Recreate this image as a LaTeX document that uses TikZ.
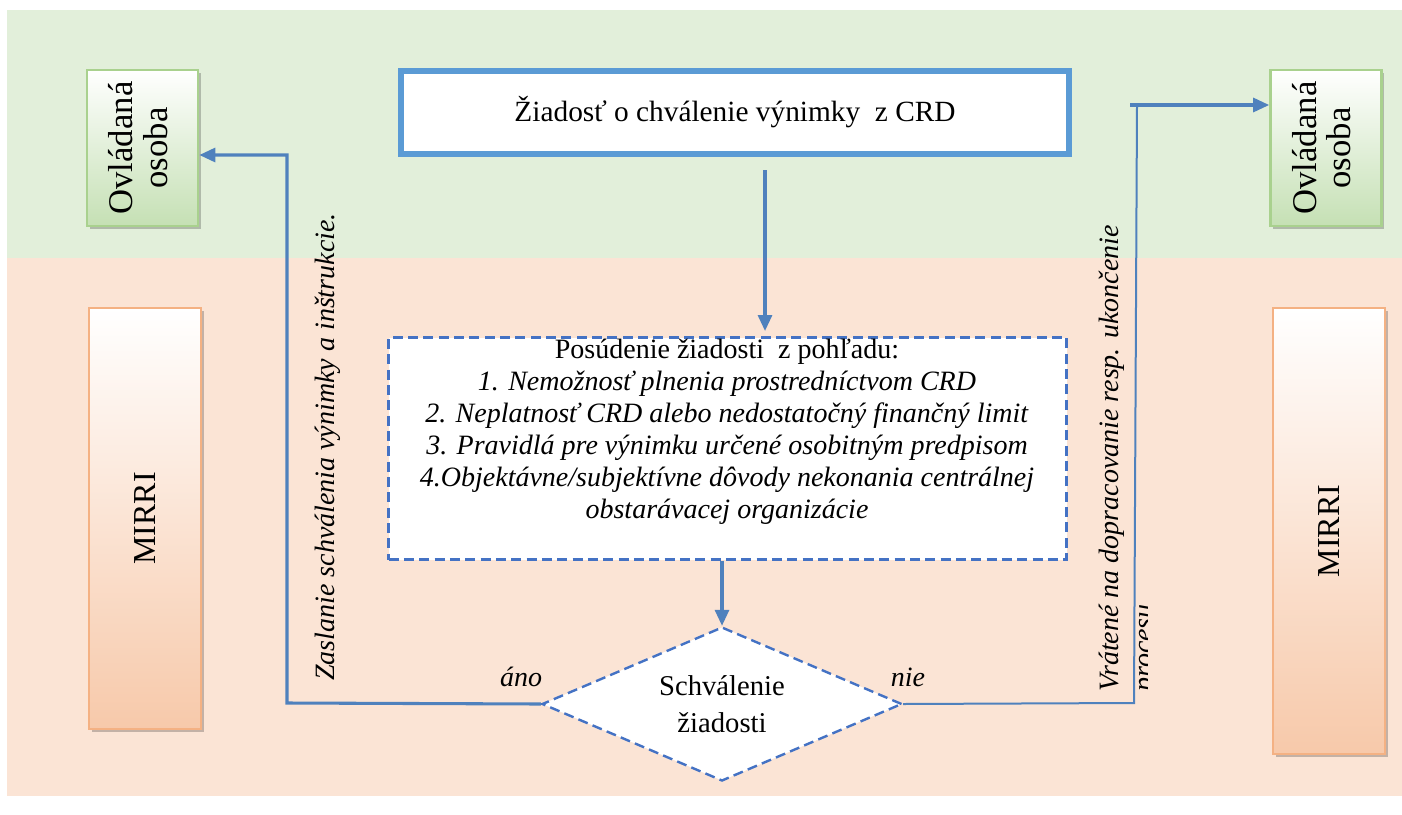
\documentclass[tikz,border=0pt]{standalone}
\usepackage{fontspec}
\setmainfont{Liberation Serif}
\usepackage{graphicx}
\usetikzlibrary{arrows.meta,shapes.geometric,shadows}
\definecolor{bggreen}{RGB}{226,239,218}
\definecolor{bgpeach}{RGB}{251,228,213}
\definecolor{boxgreen}{RGB}{197,224,180}
\definecolor{bordgreen}{RGB}{169,209,142}
\definecolor{boxpeach}{RGB}{247,201,170}
\definecolor{bordpeach}{RGB}{244,177,131}
\definecolor{topblue}{RGB}{91,155,213}
\definecolor{linkblue}{RGB}{79,129,189}
\definecolor{dashblue}{RGB}{68,114,196}
\begin{document}
\begin{tikzpicture}[x=0.75pt,y=-0.75pt,
  font=\fontsize{21}{24}\selectfont,
  shadowed/.style={drop shadow={shadow xshift=2.2pt,shadow yshift=-2.2pt,fill=black,opacity=0.22}},
  ovlbox/.style={draw=bordgreen,line width=2pt,top color=white,bottom color=boxgreen,
    minimum width=111*0.75pt,minimum height=156*0.75pt,inner sep=0pt,shadowed,
    font=\fontsize{26}{28}\selectfont},
  mirribox/.style={draw=bordpeach,line width=2pt,top color=white,bottom color=boxpeach,
    minimum width=112*0.75pt,inner sep=0pt,shadowed,font=\fontsize{24}{26}\selectfont},
  topbox/.style={draw=topblue,line width=4.5pt,fill=white,
    minimum width=668*0.75pt,minimum height=83*0.75pt,inner sep=0pt,
    font=\fontsize{22}{25}\selectfont},
  dashbox/.style={draw=dashblue,line width=1.8pt,dash pattern=on 7.5pt off 4pt,fill=white,
    minimum width=678*0.75pt,minimum height=222*0.75pt,inner sep=0pt},
  decision/.style={diamond,draw=dashblue,line width=1.8pt,dash pattern=on 7.5pt off 4pt,fill=white,
    aspect=2.34,minimum width=360*0.75pt,minimum height=154*0.75pt,inner sep=0pt,align=center},
  link/.style={draw=linkblue,line width=2.3pt},
  thinlink/.style={draw=linkblue,line width=1.5pt},
  tip/.style={-{Triangle[length=12pt,width=10.5pt]}},
  lbl/.style={font=\fontsize{21}{24}\selectfont\itshape,inner sep=0pt}
]
\useasboundingbox (0,0) rectangle (1402,814);
\fill[white] (0,0) rectangle (1402,814);
\fill[bggreen] (7,10) rectangle (1402,258);
\fill[bgpeach] (7,258) rectangle (1402,796);

% boxes
\node[ovlbox] (ovlL) at (142.5,148) {\rotatebox{90}{\begin{tabular}{@{}c@{}}Ovládaná\\[-2pt]osoba\end{tabular}}};
\node[ovlbox] (ovlR) at (1326,148) {\rotatebox{90}{\begin{tabular}{@{}c@{}}Ovládaná\\[-2pt]osoba\end{tabular}}};
\node[mirribox,minimum height=421*0.75pt] (mirriL) at (145,518.5) {\rotatebox{90}{MIRRI}};
\node[mirribox,minimum height=446*0.75pt] (mirriR) at (1329,531) {\rotatebox{90}{MIRRI}};

\node[topbox] (request) at (735,112.5) {Žiadosť o chválenie výnimky \ z CRD};

\node[dashbox] (assess) at (727.5,448.5) {};
\node[align=center,inner sep=0pt] (assesstxt) at (727,432) {Posúdenie žiadosti \ z pohľadu:\\
\textit{1. Nemožnosť plnenia prostredníctvom CRD}\\
\textit{2. Neplatnosť CRD alebo nedostatočný finančný limit}\\
\textit{3. Pravidlá pre výnimku určené osobitným predpisom}\\
\textit{4.Objektávne/subjektívne dôvody nekonania centrálnej}\\
\textit{obstarávacej organizácie}};

\node[decision,font=\fontsize{21.5}{28}\selectfont] (approve) at (722,704) {Schválenie\\žiadosti};

% connectors
\coordinate (downA) at (765,170);
\coordinate (downB) at (765,331);
\draw[link,tip] (downA) -- (downB);
\draw[link,tip] (assess.south -| approve.north) -- (approve.north);

\coordinate (yesCorner) at (287,703);
\coordinate (yesTop) at (287,155);
\draw[link,tip,line join=miter] (approve.west) -- (yesCorner) -- (yesTop) -- (yesTop -| ovlL.east);

\coordinate (noCorner) at (1134,703);
\coordinate (noTop) at (1137,105);
\coordinate (noStart) at (1130,105);
\draw[thinlink] (approve.east) -- (noCorner) -- (noTop);
\draw[link,tip] (noStart) -- (noStart -| ovlR.west);

% labels
\node[lbl] (ano) at (521,677) {áno};
\node[lbl] (nie) at (908,677) {nie};
\node[lbl,rotate=90] (sent) at (328,447) {Zaslanie schválenia výnimky a inštrukcie.};
\begin{scope}
\clip (0,0) rectangle (1147,814);
\node[lbl,font=\fontsize{21}{25}\selectfont\itshape,rotate=90,align=left,anchor=north west] (returned) at (1099,692)
  {Vrátené na dopracovanie resp. ukončenie\\procesu};
\end{scope}
\end{tikzpicture}
\end{document}
